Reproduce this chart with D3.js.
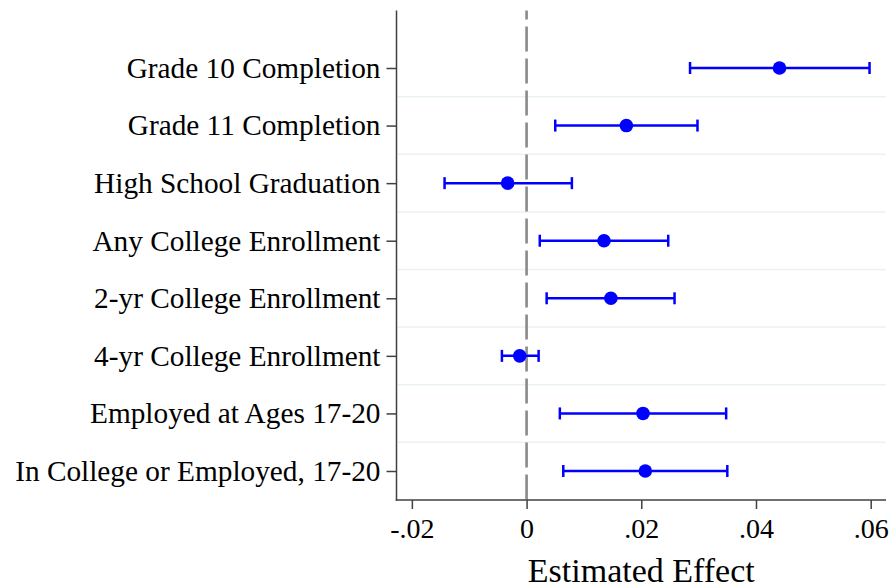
<!DOCTYPE html>
<html>
<head>
<meta charset="utf-8">
<script src="https://cdn.jsdelivr.net/npm/d3@7"></script>
<style>
  html, body { margin: 0; padding: 0; background: #fff; }
  svg { display: block; }
  text { font-family: "Liberation Serif", "Times New Roman", serif; fill: #000; }
</style>
</head>
<body>
<svg id="chart" width="894" height="587"></svg>
<script>
// Outcomes, point estimates and 95% confidence bounds
const outcomes = [
  "Grade 10 Completion",
  "Grade 11 Completion",
  "High School Graduation",
  "Any College Enrollment",
  "2-yr College Enrollment",
  "4-yr College Enrollment",
  "Employed at Ages 17-20",
  "In College or Employed, 17-20"
];
const estimates = [0.0441, 0.0174, -0.0033, 0.0135, 0.0147, -0.0012, 0.0203, 0.0207];
const lowerCI   = [0.0285, 0.0050, -0.0143, 0.0023, 0.0035, -0.0043, 0.0058, 0.0064];
const upperCI   = [0.0598, 0.0298, 0.0079, 0.0247, 0.0258, 0.0021, 0.0348, 0.0350];
const xTicks = [-0.02, 0, 0.02, 0.04, 0.06];
const xTickLabels = ["-.02", "0", ".02", ".04", ".06"];
const xTitle = "Estimated Effect";

const rows = outcomes.map((name, i) => ({
  name, est: estimates[i], lo: lowerCI[i], hi: upperCI[i]
}));

const svg = d3.select("#chart");
const plot = { left: 396.5, right: 886, top: 10.5, bottom: 500 };

const x = d3.scaleLinear()
  .domain([-0.02268, 0.06267])
  .range([plot.left, plot.right]);

const y = d3.scalePoint()
  .domain(outcomes)
  .range([68, 471]);
const step = y.step();

// Light separators between rows
svg.append("g")
  .selectAll("line")
  .data(outcomes.slice(0, -1))
  .join("line")
  .attr("x1", plot.left + 1)
  .attr("x2", plot.right)
  .attr("y1", d => y(d) + step / 2)
  .attr("y2", d => y(d) + step / 2)
  .attr("stroke", "#eaf1f4")
  .attr("stroke-width", 1.5);

// Reference line at zero
svg.append("line")
  .attr("x1", x(0)).attr("x2", x(0))
  .attr("y1", plot.top).attr("y2", plot.bottom)
  .attr("stroke", "#8a8a8a")
  .attr("stroke-width", 2.6)
  .attr("stroke-dasharray", "25,7")
  .attr("stroke-dashoffset", 16);

// Y axis
const yAxis = svg.append("g")
  .attr("transform", `translate(${plot.left},0)`)
  .call(d3.axisLeft(y).tickSize(10).tickPadding(6));
yAxis.select(".domain").remove();
yAxis.selectAll(".tick line").attr("stroke", "#404040").attr("stroke-width", 1.5);
yAxis.selectAll(".tick text").style("font-size", "29.3px").attr("fill", "#000");
svg.append("line")
  .attr("x1", plot.left).attr("x2", plot.left)
  .attr("y1", plot.top).attr("y2", plot.bottom + 0.75)
  .attr("stroke", "#404040").attr("stroke-width", 1.5);

// X axis
const xAxis = svg.append("g")
  .attr("transform", `translate(0,${plot.bottom})`)
  .call(d3.axisBottom(x).tickValues(xTicks)
    .tickFormat((d, i) => xTickLabels[i]).tickSize(9).tickPadding(9));
xAxis.select(".domain").remove();
xAxis.selectAll(".tick line").attr("stroke", "#404040").attr("stroke-width", 1.5);
xAxis.selectAll(".tick text").style("font-size", "28px").attr("fill", "#000");
svg.append("line")
  .attr("x1", plot.left - 0.75).attr("x2", plot.right)
  .attr("y1", plot.bottom).attr("y2", plot.bottom)
  .attr("stroke", "#404040").attr("stroke-width", 1.5);

svg.append("text")
  .attr("x", (plot.left + plot.right) / 2)
  .attr("y", 582)
  .attr("text-anchor", "middle")
  .style("font-size", "34px")
  .text(xTitle);

// Confidence intervals with caps, and point estimates
const blue = "#0000ff";
const marks = svg.append("g");
const g = marks.selectAll("g").data(rows).join("g");
g.append("line")
  .attr("x1", d => x(d.lo)).attr("x2", d => x(d.hi))
  .attr("y1", d => y(d.name)).attr("y2", d => y(d.name))
  .attr("stroke", blue).attr("stroke-width", 2.5);
g.selectAll("line.cap")
  .data(d => [{ v: d.lo, n: d.name }, { v: d.hi, n: d.name }])
  .join("line")
  .attr("class", "cap")
  .attr("x1", d => x(d.v)).attr("x2", d => x(d.v))
  .attr("y1", d => y(d.n) - 6).attr("y2", d => y(d.n) + 6)
  .attr("stroke", blue).attr("stroke-width", 2.5);
g.append("circle")
  .attr("cx", d => x(d.est))
  .attr("cy", d => y(d.name))
  .attr("r", 6.8)
  .attr("fill", blue);
</script>
</body>
</html>
